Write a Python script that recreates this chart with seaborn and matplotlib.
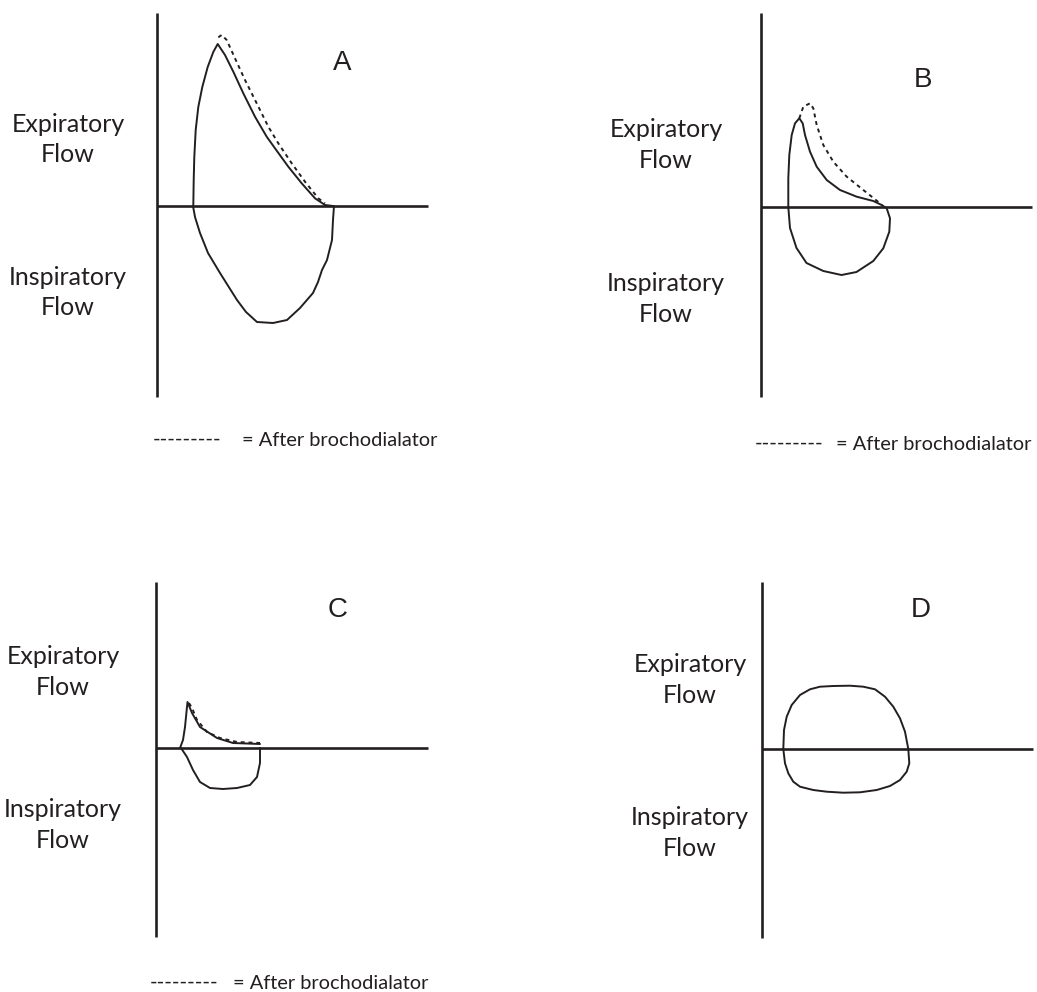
import matplotlib
matplotlib.use("Agg")
import matplotlib.pyplot as plt
import seaborn as sns

sns.set_theme(style="white")
plt.rcParams['font.family'] = ['Lato', 'DejaVu Sans']

INK = '#231f20'
W, H = 1037, 992

# flow-volume loops, volume to the right of the flow axis, flow up = expiratory
# panel A
a_exp_vol = [36.3, 36.7, 37.3, 38.7, 41.3, 45.3, 50.7, 56.3, 60.7, 68, 76.3, 86.3, 98, 109.7,
             118, 131.3, 144.7, 158, 168, 176]
a_exp_flow = [0, 26, 49, 76, 99, 119, 139, 154, 162, 151, 134.3, 112.7, 89.3, 69.3,
              57.7, 39.3, 22.7, 7.7, 1, 0]
a_bd_vol = [61.3, 64.7, 69.7, 78, 88, 99.7, 111.3, 121.3, 134.7, 148, 161.3, 168]
a_bd_flow = [168.7, 171, 166, 147.7, 126, 102.7, 79.3, 62.7, 42.7, 24.3, 7.7, 2.7]
a_insp_vol = [36, 38, 43, 51, 63, 80, 89, 100, 116, 130, 143, 156, 161, 165, 170, 175, 176, 177]
a_insp_flow = [0, -11, -27, -47, -67, -94, -106, -116, -117, -114, -102, -87, -76, -64, -54, -34, -14, 0]

# panel B
b_exp_vol = [27.8, 27.8, 28.8, 31.2, 34.5, 38.8, 42.2, 44.5, 49.5, 56.2, 66.2, 79.5, 96.2, 112.8, 121.2]
b_exp_flow = [0, 28.7, 52, 72, 83.7, 88.7, 83.7, 72, 55.3, 40.3, 27, 17, 10.3, 6, 2]
b_bd_vol = [38.8, 42.8, 49.5, 52.8, 56.2, 62.8, 72.8, 86.2, 102.8, 119.5]
b_bd_flow = [88.7, 100.3, 103.7, 98.7, 82, 62, 45.3, 30.3, 17, 3.7]
b_insp_vol = [27.8, 29.5, 36, 46, 62.8, 81, 96, 112.8, 122.8, 128.8, 129.5, 126.2, 121.2]
b_insp_flow = [0, -21, -41, -56, -64, -68, -65, -54, -41.3, -24.7, -11.3, -1.3, 2]

# panel C
c_exp_vol = [24, 27, 29, 31.5, 36, 44, 61, 77, 104]
c_exp_flow = [0, 8, 21, 46, 35, 21, 10, 5, 4]
c_bd_vol = [33, 36, 41, 51, 64, 81, 104]
c_bd_flow = [45, 40, 28, 16, 10, 6, 5]
c_insp_vol = [25, 31, 37, 44, 54, 67, 81, 94, 101, 104, 104]
c_insp_flow = [0, -9, -22, -34, -40, -41, -40, -37, -29, -15, 0]

# panel D (no bronchodilator curve)
d_loop_vol = [21.3, 22, 24.7, 29.7, 38, 48, 58, 71.3, 88, 101.3, 113, 123, 131.3, 138, 143,
              146.3, 147.3, 144.7, 138, 128, 114.7, 98, 81.3, 64.7, 51.3, 38, 31.3, 26.3, 23, 21.3]
d_loop_flow = [0, 19, 32.3, 44, 54, 59.7, 62.3, 63, 63.3, 62.3, 59.7, 52.3, 42.3, 30.7, 17.3,
               0, -14.3, -22.7, -31, -37, -41, -43.3, -43.7, -42.7, -41, -37.7, -32.7, -24.3, -14.3, 0]

# axis extents: up, down, right
axis_len = {'A': (193, 191, 271), 'B': (194, 190, 271), 'C': (166, 189, 272), 'D': (167, 189, 271)}

# panel layout: quadrant box (x0, x1, y0, y1) and origin (px)
panels = {
    'A': ((0, 518, 0, 496), (157, 206)),
    'B': ((518, 1037, 0, 496), (760.5, 207)),
    'C': ((0, 518, 496, 992), (156, 748)),
    'D': ((518, 1037, 496, 992), (762, 749)),
}

# label positions (x center, baselines exp/flow/insp/flow), letter (x, baseline), legend (dash x, text x, baseline)
labels = {
    'A': (-89, [74, 44, -79, -109], (185, 136), (-4, 85, -240)),
    'B': (-94.5, [70, 39, -84, -115], (162.5, 120), (-5.5, 76, -243)),
    'C': (-93, [84, 53, -69, -100], (182, 131), (-6, 77, -241)),
    'D': (-72, [77, 46, -76, -107], (159, 132), None),
}

curves = {
    'A': [(a_exp_vol, a_exp_flow, '-'), (a_bd_vol, a_bd_flow, ':'), (a_insp_vol, a_insp_flow, '-')],
    'B': [(b_exp_vol, b_exp_flow, '-'), (b_bd_vol, b_bd_flow, ':'), (b_insp_vol, b_insp_flow, '-')],
    'C': [(c_exp_vol, c_exp_flow, '-'), (c_bd_vol, c_bd_flow, ':'), (c_insp_vol, c_insp_flow, '-')],
    'D': [(d_loop_vol, d_loop_flow, '-')],
}

fig = plt.figure(figsize=(W / 100, H / 100), dpi=100)

for name, ((x0, x1, y0, y1), (ox, oy)) in panels.items():
    ax = fig.add_axes([x0 / W, 1 - y1 / H, (x1 - x0) / W, (y1 - y0) / H])
    ax.set_xlim(x0 - ox, x1 - ox)
    ax.set_ylim(oy - y1, oy - y0)
    ax.axis('off')

    up, down, right = axis_len[name]
    ax.plot([0, 0], [-down, up], color=INK, lw=1.9, solid_capstyle='butt')
    ax.plot([0, right], [0, 0], color=INK, lw=1.9, solid_capstyle='butt')

    for vol, flow, style in curves[name]:
        if style == '-':
            sns.lineplot(x=vol, y=flow, sort=False, estimator=None, ax=ax,
                         color=INK, lw=1.4)
        else:
            sns.lineplot(x=vol, y=flow, sort=False, estimator=None, ax=ax,
                         color=INK, lw=1.4, linestyle=(0, (2, 2)))

    cx, bl, (lx, lb), leg = labels[name]
    for txt, b in zip(['Expiratory', 'Flow', 'Inspiratory', 'Flow'], bl):
        ax.text(cx, b, txt, ha='center', va='baseline', fontsize=18, color=INK)
    ax.text(lx, lb, name, ha='center', va='baseline', fontsize=20,
            family='Liberation Sans', color=INK)
    if leg is not None:
        dx, tx, b = leg
        ax.text(dx, b, '---------', ha='left', va='baseline', fontsize=15, color=INK)
        ax.text(tx, b, '= After brochodialator', ha='left', va='baseline', fontsize=14.4, color=INK)

plt.savefig('out.png', dpi=100)
